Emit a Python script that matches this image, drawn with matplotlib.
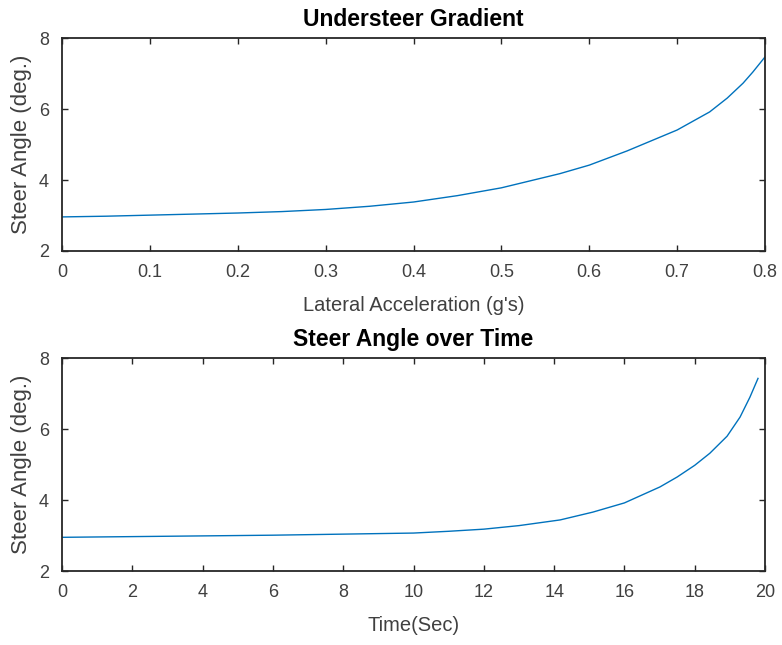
import numpy as np
import matplotlib.pyplot as plt

plt.rcParams['font.family'] = ['Liberation Sans', 'DejaVu Sans']

# Understeer gradient: steer angle vs lateral acceleration
lat_acc = [0.0, 0.05, 0.1, 0.15, 0.2, 0.25, 0.3, 0.35, 0.4, 0.45, 0.5, 0.55,
           0.5666, 0.6, 0.643, 0.7, 0.737, 0.757, 0.775, 0.786, 0.8]
steer_acc = [2.96, 2.98, 3.01, 3.04, 3.07, 3.11, 3.17, 3.26, 3.38, 3.56, 3.78, 4.08,
             4.18, 4.42, 4.82, 5.41, 5.92, 6.31, 6.73, 7.04, 7.47]

# Steer angle over time
time_s = [0.0, 2.0, 4.0, 6.0, 8.0, 10.0, 11.0, 12.0, 13.0, 14.17, 15.1, 16.0,
          17.01, 17.5, 18.0, 18.43, 18.92, 19.29, 19.57, 19.8]
steer_t = [2.95, 2.97, 2.99, 3.01, 3.04, 3.07, 3.12, 3.18, 3.28, 3.44, 3.66, 3.92,
           4.37, 4.65, 4.98, 5.32, 5.80, 6.34, 6.90, 7.43]

line_col = '#0072BD'
text_col = '#404040'

fig = plt.figure(figsize=(7.82, 6.45), dpi=100)
ax1 = fig.add_axes([0.0793, 0.6109, 0.899, 0.330])
ax2 = fig.add_axes([0.0793, 0.1147, 0.899, 0.330])

panels = [
    (ax1, lat_acc, steer_acc, 'Understeer Gradient', "Lateral Acceleration (g's)",
     (0, 0.8), np.arange(0, 0.81, 0.1), ['0', '0.1', '0.2', '0.3', '0.4', '0.5', '0.6', '0.7', '0.8']),
    (ax2, time_s, steer_t, 'Steer Angle over Time', 'Time(Sec)',
     (0, 20), np.arange(0, 21, 2), [str(v) for v in range(0, 21, 2)]),
]

for ax, x, y, title, xlabel, xlim, xt, xtl in panels:
    ax.plot(x, y, color=line_col, linewidth=1.0)
    ax.set_xlim(*xlim)
    ax.set_ylim(2, 8)
    ax.set_xticks(xt)
    ax.set_xticklabels(xtl)
    ax.set_yticks([2, 4, 6, 8])
    ax.set_title(title, fontsize=16.5, fontweight='bold', color='black', pad=9)
    ax.set_xlabel(xlabel, fontsize=14.5, color=text_col, labelpad=11)
    ax.set_ylabel('Steer Angle (deg.)', fontsize=16, color=text_col, labelpad=5)
    ax.tick_params(direction='in', top=True, right=True, length=4.5, width=1.0,
                   labelsize=13, colors='#262626', labelcolor=text_col, pad=9.5)
    for s in ax.spines.values():
        s.set_linewidth(1.3)
        s.set_color('#262626')

fig.savefig('out.png', dpi=100)
